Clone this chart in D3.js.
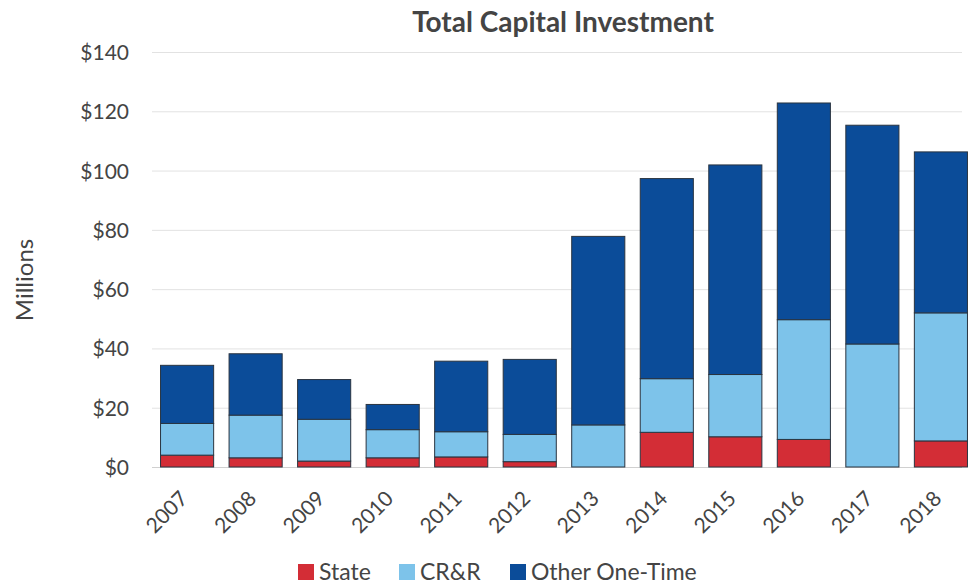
<!DOCTYPE html>
<html>
<head>
<meta charset="utf-8">
<script src="https://cdn.jsdelivr.net/npm/d3@7"></script>
<style>
  html, body { margin: 0; padding: 0; background: #fff; }
  svg { display: block; font-family: Lato, "Open Sans", sans-serif; }
</style>
</head>
<body>
<svg id="chart" width="971" height="584"></svg>
<script>
// Capital investment by funding source, millions of dollars
const years = ["2007","2008","2009","2010","2011","2012","2013","2014","2015","2016","2017","2018"];
const state = [4.0, 3.1, 2.0, 3.1, 3.4, 1.8, 0, 11.7, 10.2, 9.3, 0, 8.8];
const crr   = [10.7, 14.4, 14.1, 9.5, 8.5, 9.2, 14.2, 18.1, 21.0, 40.4, 41.5, 43.2];
const other = [19.6, 20.7, 13.4, 8.5, 23.8, 25.3, 63.6, 67.5, 70.7, 73.1, 73.8, 54.3];
const seriesNames = ["State", "CR&R", "Other One-Time"];
const seriesKeys = ["state", "crr", "other"];
const colors = ["#d32d36", "#7dc3ea", "#0b4c99"];
const yTicks = [0, 20, 40, 60, 80, 100, 120, 140];

const rows = years.map((y, i) => ({ year: y, state: state[i], crr: crr[i], other: other[i] }));

const svg = d3.select("#chart");
const margin = { left: 153, right: -4, top: 52, bottom: 117 };
const W = 971, H = 584;
const textColor = "#444";
const font = "Lato, 'Open Sans', sans-serif";

const x = d3.scaleBand().domain(years)
  .range([margin.left, W - margin.right]).paddingInner(0.225).paddingOuter(0.11);
const y = d3.scaleLinear().domain([0, 140]).range([H - margin.bottom, margin.top]);

// gridlines
svg.append("g").selectAll("line").data(yTicks.slice(1)).join("line")
  .attr("x1", 152).attr("x2", 962)
  .attr("y1", d => y(d) + 0.5).attr("y2", d => y(d) + 0.5)
  .attr("stroke", "#e2e2e2").attr("stroke-width", 1);

// baseline
svg.append("line")
  .attr("x1", 152).attr("x2", 962)
  .attr("y1", y(0) + 0.5).attr("y2", y(0) + 0.5)
  .attr("stroke", "#d0d0d0");

// y axis labels
const yAxis = d3.axisLeft(y).tickValues(yTicks).tickSize(0).tickPadding(0)
  .tickFormat(d => "$" + d);
const gy = svg.append("g").attr("transform", "translate(129,0)").call(yAxis)
  .attr("font-family", font).attr("font-size", 21);
gy.select(".domain").remove();
gy.selectAll("text").attr("fill", textColor).attr("dy", "0.36em");

// stacked bars
const stack = d3.stack().keys(seriesKeys)(rows);
svg.append("g").selectAll("g").data(stack).join("g")
  .attr("fill", (d, i) => colors[i])
  .selectAll("rect").data(d => d.filter(p => p[1] - p[0] > 0)).join("rect")
  .attr("x", d => x(d.data.year))
  .attr("width", x.bandwidth())
  .attr("y", d => y(d[1]))
  .attr("height", d => y(d[0]) - y(d[1]))
  .attr("stroke", "#2a3440").attr("stroke-width", 1);

// x axis labels
const xAxis = d3.axisBottom(x).tickSize(0).tickPadding(0);
const gx = svg.append("g").attr("transform", `translate(0,${y(0)})`).call(xAxis)
  .attr("font-family", font).attr("font-size", 21);
gx.select(".domain").remove();
gx.selectAll("text")
  .attr("fill", textColor)
  .attr("text-anchor", "end")
  .attr("dy", 0)
  .attr("transform", "translate(2,33) rotate(-45)");

// title
svg.append("text").attr("x", 563).attr("y", 32)
  .attr("text-anchor", "middle").attr("font-size", 28).attr("font-weight", "bold")
  .attr("fill", textColor).text("Total Capital Investment");

// y axis title
svg.append("text").attr("transform", "translate(33,280) rotate(-90)")
  .attr("text-anchor", "middle").attr("font-size", 24).attr("fill", textColor)
  .text("Millions");

// legend
const legendX = [298, 399, 510];
const lg = svg.append("g").selectAll("g").data(seriesNames).join("g")
  .attr("transform", (d, i) => `translate(${legendX[i]},564)`);
lg.append("rect").attr("width", 16).attr("height", 16).attr("y", 0)
  .attr("fill", (d, i) => colors[i]);
lg.append("text").attr("x", 21).attr("y", 16)
  .attr("font-size", 23).attr("fill", textColor).text(d => d);
</script>
</body>
</html>
